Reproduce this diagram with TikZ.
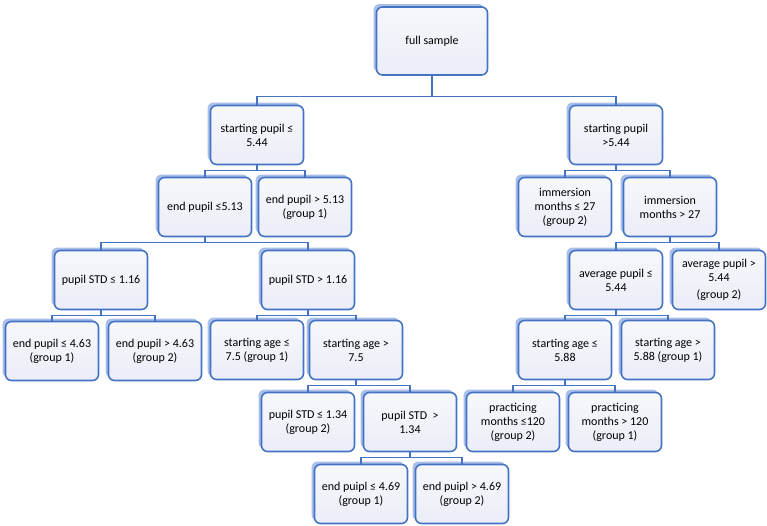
\documentclass[tikz,border=0pt]{standalone}
\usepackage{fontspec}
\setmainfont{Carlito}
\usetikzlibrary{shadows}
\definecolor{LineClr}{rgb}{0.27,0.45,0.77}
\definecolor{FillClr}{rgb}{0.92,0.93,0.97}
\definecolor{ShadeClr}{rgb}{0.33,0.49,0.82}

\begin{document}
\begin{tikzpicture}[x=1pt,y=-1pt,
  box/.style={draw=LineClr,line width=1.6pt,rounded corners=6pt,
    top color=white!60!FillClr,bottom color=FillClr,
    minimum width=93pt,minimum height=59pt,align=center,inner sep=2pt,
    font=\fontsize{12}{14}\selectfont,
    drop shadow={shadow xshift=-3pt,shadow yshift=3pt,fill=ShadeClr,opacity=.5}},
  link/.style={draw=LineClr,line width=1.3pt}]
\useasboundingbox (0,0) rectangle (767,525);

\node[box,minimum width=111pt,minimum height=68pt] (Full) at (432,41) {full sample};

\node[box] (SPlo) at (257,135) {starting pupil ≤\\5.44};
\node[box] (SPhi) at (616,135) {starting pupil\\>5.44};

\node[box] (EPlo) at (205,207) {end pupil ≤5.13};
\node[box] (EPhi) at (305,207) {end pupil > 5.13\\(group 1)};
\node[box] (IMlo) at (565,207) {immersion\\months ≤ 27\\(group 2)};
\node[box] (IMhi) at (670,207) {immersion\\months > 27};

\node[box] (STDlo) at (101,280) {pupil STD ≤ 1.16};
\node[box] (STDhi) at (308,280) {pupil STD > 1.16};
\node[box] (AVlo) at (616,280) {average pupil ≤\\5.44};
\node[box] (AVhi) at (719,280) {average pupil >\\5.44\\[3pt](group 2)};

\node[box] (EPa) at (52,351) {end pupil ≤ 4.63\\(group 1)};
\node[box] (EPb) at (155,351) {end pupil > 4.63\\(group 2)};
\node[box] (SAa) at (257,350) {starting age ≤\\7.5 (group 1)};
\node[box] (SAb) at (356,350) {starting age >\\7.5};
\node[box] (SAc) at (565,350) {starting age ≤\\5.88};
\node[box] (SAd) at (668,350) {starting age >\\5.88 (group 1)};

\node[box] (PSa) at (308,422) {pupil STD ≤ 1.34\\(group 2)};
\node[box] (PSb) at (410,422) {pupil STD \ >\\1.34};
\node[box] (PMa) at (513,422) {practicing\\months ≤120\\(group 2)};
\node[box] (PMb) at (615,422) {practicing\\months > 120\\(group 1)};

\node[box] (EUa) at (361,494) {end puipl ≤ 4.69\\(group 1)};
\node[box] (EUb) at (462,494) {end puipl > 4.69\\(group 2)};

\draw[link] (Full.south) -- ++(0,21) -| (SPlo.north);
\draw[link] (Full.south) -- ++(0,21) -| (SPhi.north);
\foreach \a/\b in {SPlo/EPlo,SPlo/EPhi,SPhi/IMlo,SPhi/IMhi,
  EPlo/STDlo,EPlo/STDhi,IMhi/AVlo,IMhi/AVhi,
  STDlo/EPa,STDlo/EPb,STDhi/SAa,STDhi/SAb,AVlo/SAc,AVlo/SAd,
  SAb/PSa,SAb/PSb,SAc/PMa,SAc/PMb,PSb/EUa,PSb/EUb}
  \draw[link] (\a.south) -- ++(0,5.5) -| (\b.north);
\end{tikzpicture}
\end{document}
